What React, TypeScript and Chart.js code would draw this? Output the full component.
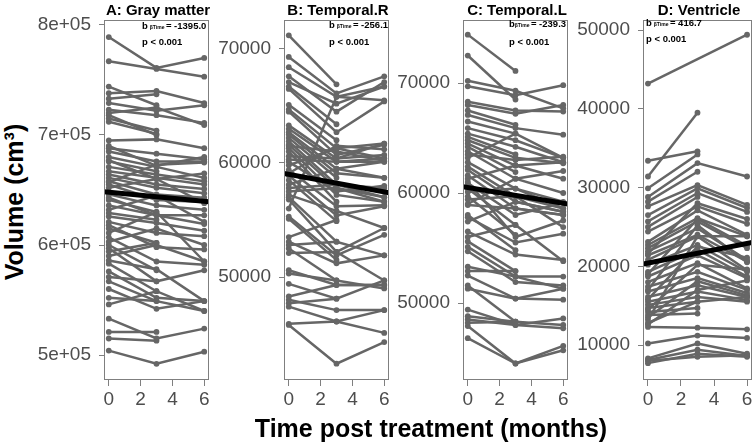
import React, { useEffect, useRef } from "react";
import { Chart, registerables } from "chart.js";

Chart.register(...registerables);

// ---------- data ----------
const timePoints = [0, 3, 6];
const xTicks = [0, 2, 4, 6];
const xMin = -0.3;
const xMax = 6.3;

const panelTitles = ["A: Gray matter", "B: Temporal.R", "C: Temporal.L", "D: Ventricle"];
const betaTime = [-1395.0, -256.1, -239.3, 416.7];
const intercepts = [648100, 59000, 60500, 20400];
const pLabel = "p < 0.001";

const yTicksA = [500000, 600000, 700000, 800000];
const yTickLabelsA = ["5e+05", "6e+05", "7e+05", "8e+05"];
const yTicksB = [50000, 60000, 70000];
const yTicksC = [50000, 60000, 70000];
const yTicksD = [10000, 20000, 30000, 40000, 50000];

const yMins = [477300, 40970, 43000, 5560];
const yMaxs = [804500, 72540, 75730, 51270];

// each row: volume at month 0, 3, 6 (null = missing)
const grayMatter: (number | null)[][] = [
  [789000, 761000, 770000],
  [767000, 760000, 753000],
  [744000, 727000, null],
  [738000, 740000, 729000],
  [733000, 737000, null],
  [729000, 722000, 727000],
  [723000, 718000, 711000],
  [720000, 725000, 709000],
  [718000, 700000, null],
  [715000, 704000, null],
  [712000, 701000, null],
  [695000, 696000, 688000],
  [690000, 672000, 680000],
  [688000, 683000, 678000],
  [685000, 676000, 676000],
  [680000, 671000, 661000],
  [677000, 660000, 665000],
  [676000, 667000, null],
  [671000, 664000, 658000],
  [667000, 661000, 655000],
  [664000, 655000, 651000],
  [661000, 652000, 647000],
  [658000, 646000, 643000],
  [657000, 673000, 675000],
  [655000, 641000, 639000],
  [652000, 660000, 638000],
  [646000, 636000, 632000],
  [643000, 627000, 619000],
  [641000, 630000, null],
  [636000, 627000, 627000],
  [632000, 645000, 621000],
  [629000, 623000, null],
  [626000, 620000, 613000],
  [621000, 611000, 608000],
  [618000, 598000, 596000],
  [615000, 602000, null],
  [611000, 630000, 585000],
  [607000, 585000, 582000],
  [603000, 615000, 600000],
  [600000, 577000, null],
  [597000, 567000, 577000],
  [594000, 602000, null],
  [590000, 600000, 585000],
  [586000, 578000, 549000],
  [583000, 558000, null],
  [576000, 552000, 549000],
  [571000, 567000, null],
  [567000, 549000, 540000],
  [560000, 542000, 549000],
  [552000, 549000, null],
  [546000, 558000, 540000],
  [533000, 515000, 524000],
  [521000, 521000, null],
  [515000, 513000, null],
  [504000, 492000, 503000],
];

const temporalR: (number | null)[][] = [
  [71200, 66900, null],
  [69300, 66100, 67600],
  [68400, 65800, 65500],
  [67600, 64500, 67100],
  [67100, 65200, 66700],
  [66700, 63400, null],
  [66500, 62700, 65400],
  [65100, 62000, null],
  [64700, 61300, 61700],
  [64500, 60700, 61600],
  [63300, 60400, 60700],
  [63000, 60100, 60400],
  [62700, 59500, 60100],
  [62500, 59100, 58700],
  [62200, 58700, null],
  [61900, 58100, 57800],
  [61600, 57800, 57000],
  [61500, 61000, 60200],
  [61300, 57200, 56600],
  [61000, 56600, null],
  [60600, 60400, 61700],
  [60300, 60100, 60100],
  [60100, 57500, 58000],
  [59800, 61300, 60400],
  [59400, 56200, 56300],
  [59100, 61500, 61200],
  [58900, 55400, 56200],
  [58500, 54900, null],
  [58100, 59500, 58700],
  [57800, 58100, 57000],
  [57500, 57800, 56600],
  [57200, 55800, 54300],
  [57000, 53100, null],
  [56800, 52200, 54300],
  [56000, 65800, 66700],
  [55300, 51900, 53700],
  [55100, 51500, null],
  [53500, 55000, null],
  [53100, 51200, 51900],
  [52800, 53100, 51900],
  [52500, 49700, null],
  [52100, 52200, 49700],
  [50600, 49300, 49300],
  [50300, 49700, 49000],
  [49400, 48100, 49700],
  [48300, 49300, 49300],
  [48000, 47100, 47100],
  [47700, 48100, null],
  [47400, 46100, 47100],
  [45900, 46100, 45100],
  [45800, 42400, 44300],
];

const temporalL: (number | null)[][] = [
  [74400, 71100, null],
  [72500, 68500, null],
  [70200, 69300, 67700],
  [69700, 68900, 69800],
  [68300, 67500, 67400],
  [68000, 67200, 68000],
  [67500, 66200, null],
  [67100, 65900, 65300],
  [66500, 65400, null],
  [65900, 64800, 63200],
  [65400, 64200, 62800],
  [65100, 63500, null],
  [64800, 63200, 62700],
  [64500, 62500, 61300],
  [64200, 61900, null],
  [63800, 61300, 60000],
  [63500, 63000, 63300],
  [63200, 65400, 63200],
  [62800, 60400, 59200],
  [62400, 59700, 58600],
  [62100, 59200, 58300],
  [61600, 58600, 58000],
  [61300, 62500, 62800],
  [61000, 56000, 57500],
  [60900, 58000, 59100],
  [60400, 57100, null],
  [60100, 60400, 58600],
  [59700, 56200, null],
  [59400, 59700, 56900],
  [59000, 61300, 62000],
  [58900, 58600, 58000],
  [58000, 54800, null],
  [57800, 55500, 56300],
  [57400, 59200, 58300],
  [56500, 54400, 53900],
  [56000, 57100, 53800],
  [55600, 52900, null],
  [55100, 52400, 52400],
  [54700, 51900, 51600],
  [53300, 52400, 51300],
  [52900, 52900, null],
  [52500, 50400, 50300],
  [51600, 48300, null],
  [51300, 50400, 51300],
  [49400, 48000, 48600],
  [48800, 48300, 48000],
  [48500, 48000, 47700],
  [48200, 48300, null],
  [47900, 44500, 46100],
  [46800, 44500, 45700],
];

const ventricle: (number | null)[][] = [
  [43200, null, 49400],
  [31400, 39500, null],
  [33400, 34600, null],
  [29900, 34200, null],
  [28800, 33100, 31400],
  [28200, 32000, null],
  [27600, 30300, 27800],
  [26500, 29900, 27400],
  [25700, 29300, 26900],
  [25000, 28800, null],
  [24400, 27600, 25400],
  [23100, 27100, 24000],
  [22700, 26100, 23800],
  [22300, 25700, 22300],
  [21900, 24800, 20800],
  [21600, 28000, 26000],
  [21400, 24000, 20600],
  [20800, 23800, 19500],
  [20200, 22700, 19300],
  [19300, 22100, 18700],
  [19000, 26000, 22600],
  [18700, 21400, 18500],
  [18000, 20400, 17200],
  [17400, 19300, 17000],
  [17000, 25200, 20500],
  [16800, 18500, 16600],
  [16100, 17600, 16100],
  [15800, 22500, 21100],
  [15500, 16800, 15700],
  [15100, 16100, 15500],
  [14700, 15500, null],
  [14500, 20200, 19600],
  [14200, 14700, null],
  [13800, 14000, null],
  [13500, 18100, 16300],
  [13200, 23800, 23800],
  [12800, 15500, 16100],
  [12600, 17000, 18200],
  [12300, 12200, 12000],
  [10200, 11200, 10900],
  [8300, 10200, 8900],
  [8100, 9400, 8600],
  [8000, 8500, 8700],
  [7700, 8900, 8500],
];

// ---------- layout / style ----------
const FONT = "'Liberation Sans', Arial, Helvetica, sans-serif";
const GRAY = "#666666";
const AXIS_GRAY = "#4d4d4d";
const BORDER_GRAY = "#7f7f7f";
const W = 756;
const H = 443;
const Y_AXIS_W = 74;
const panelLeft = [104, 284, 463, 643];
const panelRight = [212, 392, 571, 755];
const annX = [38, 45, 46, 3];
const annY1 = [26, 25, 24, 23];
const annY2 = [42.5, 42.5, 42.5, 39];
const annGap = [2, 2, 0, 2];

const panelRows = [grayMatter, temporalR, temporalL, ventricle];
const panelYTicks = [yTicksA, yTicksB, yTicksC, yTicksD];

function yLabel(idx: number, v: number): string {
  if (idx === 0) {
    const k = yTicksA.indexOf(v);
    return k >= 0 ? yTickLabelsA[k] : "";
  }
  return String(v);
}

const decorPlugin = {
  id: "panelDecor",
  afterDatasetsDraw(chart: any, _args: any, opts: any) {
    const { ctx, chartArea: a } = chart;
    ctx.save();
    ctx.strokeStyle = BORDER_GRAY;
    ctx.lineWidth = 1;
    ctx.strokeRect(a.left + 0.5, a.top + 0.5, a.right - a.left - 1, a.bottom - a.top - 1);

    let x = a.left + opts.annX;
    ctx.fillStyle = "#000";
    ctx.textAlign = "left";
    ctx.textBaseline = "middle";
    ctx.font = `bold 9.5px ${FONT}`;
    ctx.fillText("b", x, opts.annY1);
    x += ctx.measureText("b").width + opts.gap;
    ctx.font = `bold 5px ${FONT}`;
    ctx.fillText("\u03B2Time", x, opts.annY1 + 1.5);
    x += ctx.measureText("\u03B2Time").width + 1.5;
    ctx.font = `bold 9.5px ${FONT}`;
    ctx.fillText(opts.valueText, x, opts.annY1);
    ctx.fillText(pLabel, a.left + opts.annX, opts.annY2);
    ctx.restore();
  },
};

function Panel({ idx }: { idx: number }) {
  const ref = useRef<HTMLCanvasElement>(null);
  const left = panelLeft[idx] - Y_AXIS_W;
  const width = panelRight[idx] - panelLeft[idx] + Y_AXIS_W + 1;

  useEffect(() => {
    const rows = panelRows[idx];
    const subjectSets = rows.map((r) => ({
      data: timePoints.map((t, i) => ({ x: t, y: r[i] })),
      borderColor: GRAY,
      backgroundColor: GRAY,
      borderWidth: 2.5,
      pointRadius: 2.9,
      pointBorderWidth: 0,
      pointBackgroundColor: GRAY,
      spanGaps: true,
      tension: 0,
      order: 1,
    }));
    const fitSet = {
      data: [xMin, xMax].map((x) => ({ x, y: intercepts[idx] + betaTime[idx] * x })),
      borderColor: "#000",
      backgroundColor: "#000",
      borderWidth: 5,
      pointRadius: 0,
      tension: 0,
      order: 0,
    };
    const yTicks = panelYTicks[idx];
    const chart = new Chart(ref.current as HTMLCanvasElement, {
      type: "line",
      data: { datasets: [fitSet as any, ...subjectSets] },
      options: {
        animation: false,
        responsive: false,
        events: [],
        layout: { padding: { left: 0, right: 1, top: 20, bottom: 33 } },
        plugins: {
          legend: { display: false },
          title: { display: false },
          tooltip: { enabled: false },
          panelDecor: {
            annX: annX[idx],
            annY1: annY1[idx],
            annY2: annY2[idx],
            gap: annGap[idx],
            valueText: `= ${betaTime[idx].toFixed(1)}`,
          },
        } as any,
        scales: {
          x: {
            type: "linear",
            min: xMin,
            max: xMax,
            afterBuildTicks: (s: any) => {
              s.ticks = xTicks.map((v) => ({ value: v }));
            },
            afterFit: (s: any) => {
              s.height = 30;
            },
            grid: { drawOnChartArea: false, drawTicks: true, tickLength: 6, tickColor: BORDER_GRAY, tickWidth: 1 },
            border: { display: false },
            ticks: {
              color: AXIS_GRAY,
              font: { family: FONT, size: 19 },
              padding: 2,
              maxRotation: 0,
              autoSkip: false,
            },
          },
          y: {
            type: "linear",
            min: yMins[idx],
            max: yMaxs[idx],
            afterBuildTicks: (s: any) => {
              s.ticks = yTicks.map((v) => ({ value: v }));
            },
            afterFit: (s: any) => {
              s.width = Y_AXIS_W;
            },
            grid: { drawOnChartArea: false, drawTicks: true, tickLength: 5, tickColor: BORDER_GRAY, tickWidth: 1 },
            border: { display: false },
            ticks: {
              color: AXIS_GRAY,
              font: { family: FONT, size: 19 },
              padding: 8,
              autoSkip: false,
              callback: (v: any) => yLabel(idx, Number(v)),
            },
          },
        },
      },
      plugins: [decorPlugin as any],
    });
    return () => chart.destroy();
  }, [idx]);

  return (
    <canvas
      ref={ref}
      width={width}
      height={H}
      style={{ position: "absolute", left, top: 0, width, height: H }}
    />
  );
}

export default function App() {
  return (
    <div
      style={{
        position: "fixed",
        left: 0,
        top: 0,
        width: W,
        height: H,
        background: "#fff",
        overflow: "hidden",
        fontFamily: FONT,
      }}
    >
      {[0, 1, 2, 3].map((i) => (
        <Panel key={i} idx={i} />
      ))}
      {panelTitles.map((t, i) => (
        <div
          key={t}
          style={{
            position: "absolute",
            left: panelLeft[i] - 20,
            width: panelRight[i] - panelLeft[i] + 40,
            top: 2,
            textAlign: "center",
            fontWeight: "bold",
            fontSize: 15,
            lineHeight: "15px",
            whiteSpace: "nowrap",
            color: "#000",
          }}
        >
          {t}
        </div>
      ))}
      <div
        style={{
          position: "absolute",
          left: 13.9 - 150,
          top: 202 - 14,
          width: 300,
          height: 28,
          lineHeight: "28px",
          textAlign: "center",
          transform: "rotate(-90deg)",
          fontWeight: "bold",
          fontSize: 25,
          color: "#000",
          whiteSpace: "nowrap",
        }}
      >
        Volume (cm³)
      </div>
      <div
        style={{
          position: "absolute",
          left: 431 - 250,
          width: 500,
          top: 416,
          lineHeight: "25px",
          textAlign: "center",
          fontWeight: "bold",
          fontSize: 25,
          color: "#000",
          whiteSpace: "nowrap",
        }}
      >
        Time post treatment (months)
      </div>
    </div>
  );
}
